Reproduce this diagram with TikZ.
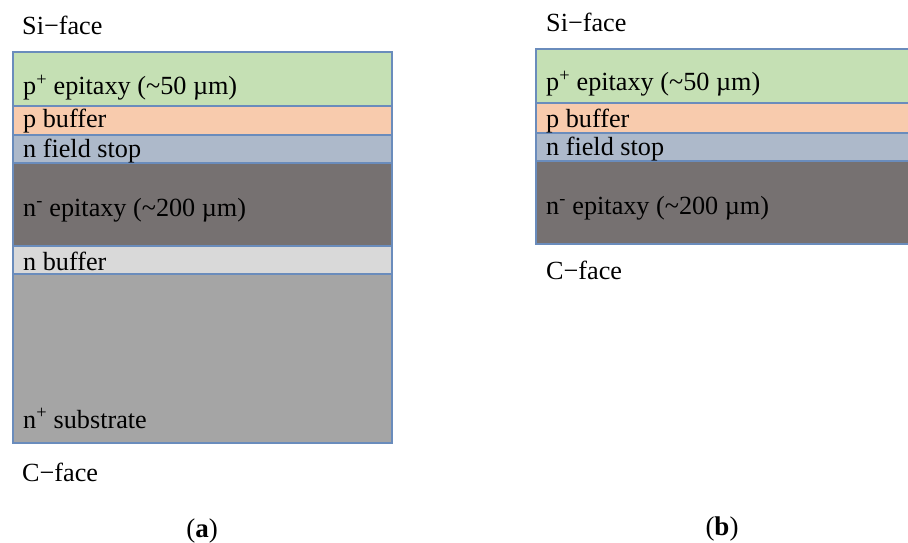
\documentclass[tikz,border=0pt]{standalone}
\usepackage{fontspec}
\setmainfont{Liberation Serif}
\definecolor{pplus}{HTML}{C5E0B4}
\definecolor{pbuf}{HTML}{F8CBAD}
\definecolor{nfs}{HTML}{ADB9CA}
\definecolor{nminus}{HTML}{767171}
\definecolor{nbuf}{HTML}{D9D9D9}
\definecolor{nsub}{HTML}{A5A5A5}
\definecolor{edge}{HTML}{6A8CBC}
\begin{document}
\begin{tikzpicture}[x=1pt,y=-1pt,
  layer/.style={draw=edge,line width=1.2pt},
  lbl/.style={anchor=base west,inner sep=0pt,font=\fontsize{26.2}{31}\selectfont},
  subcap/.style={anchor=base,inner sep=0pt,font=\fontsize{27}{32}\selectfont}]
\useasboundingbox (0,0) rectangle (908,543);
% stack (a): full structure on the substrate
\filldraw[layer,fill=pplus]  (13,52)  rectangle (392,106);
\filldraw[layer,fill=pbuf]   (13,106) rectangle (392,135);
\filldraw[layer,fill=nfs]    (13,135) rectangle (392,163);
\filldraw[layer,fill=nminus] (13,163) rectangle (392,246);
\filldraw[layer,fill=nbuf]   (13,246) rectangle (392,274);
\filldraw[layer,fill=nsub]   (13,274) rectangle (392,443);
\node[lbl] (asi)  at (22,35)  {Si\textminus face};
\node[lbl] (ap)   at (23,95)  {p\textsuperscript{+} epitaxy (\textasciitilde 50 µm)};
\node[lbl] (apb)  at (23,128) {p buffer};
\node[lbl] (anfs) at (23,157) {n field stop};
\node[lbl] (anm)  at (23,216) {n\textsuperscript{-} epitaxy (\textasciitilde 200 µm)};
\node[lbl] (anb)  at (23,270) {n buffer};
\node[lbl] (ans)  at (23,428) {n\textsuperscript{+} substrate};
\node[lbl] (ac)   at (22,481) {C\textminus face};
\node[subcap] (capa) at (202,537) {(\textbf{a})};
% stack (b): substrate removed
\filldraw[layer,fill=pplus]  (536,49)  rectangle (914,103);
\filldraw[layer,fill=pbuf]   (536,103) rectangle (914,133);
\filldraw[layer,fill=nfs]    (536,133) rectangle (914,161);
\filldraw[layer,fill=nminus] (536,161) rectangle (914,244);
\node[lbl] (bsi)  at (546,32)  {Si\textminus face};
\node[lbl] (bp)   at (546,91)  {p\textsuperscript{+} epitaxy (\textasciitilde 50 µm)};
\node[lbl] (bpb)  at (546,127) {p buffer};
\node[lbl] (bnfs) at (546,155) {n field stop};
\node[lbl] (bnm)  at (546,214) {n\textsuperscript{-} epitaxy (\textasciitilde 200 µm)};
\node[lbl] (bc)   at (546,279) {C\textminus face};
\node[subcap] (capb) at (722,535) {(\textbf{b})};
\end{tikzpicture}
\end{document}
